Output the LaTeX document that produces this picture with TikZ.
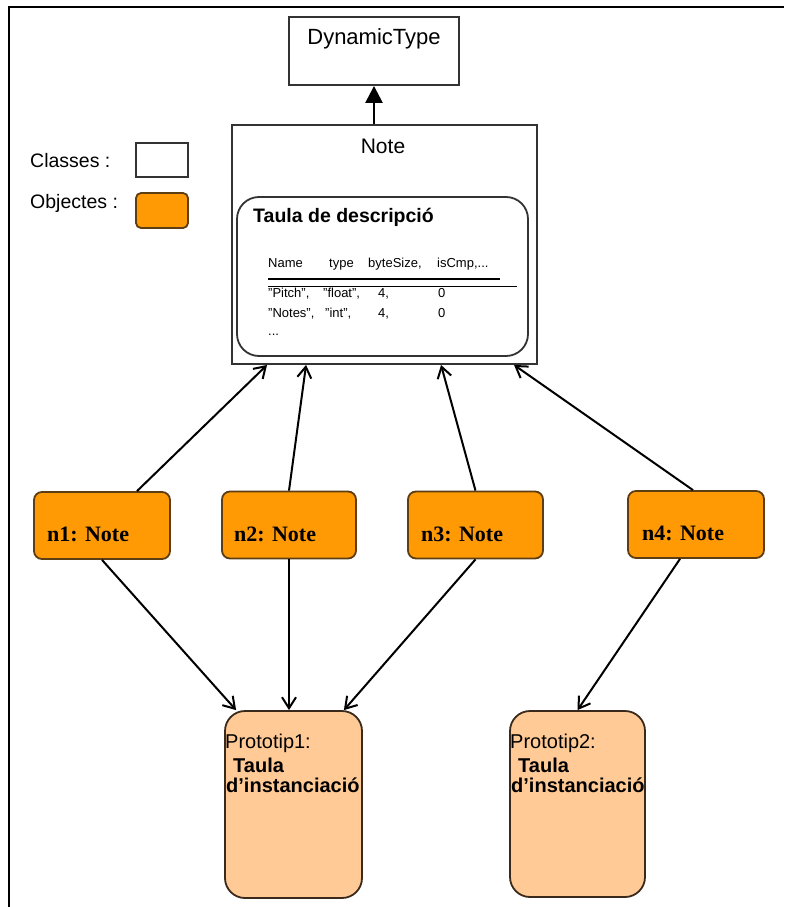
\documentclass[tikz,border=0pt]{standalone}
\usepackage{fontspec}
\setmainfont{Liberation Sans}
\newfontfamily\nodeserif{Liberation Serif}
\usetikzlibrary{arrows.meta}
\definecolor{objfill}{HTML}{FF9A05}
\definecolor{objline}{HTML}{5C3D14}
\definecolor{protofill}{HTML}{FFCA96}
\definecolor{protoline}{HTML}{3A2A1C}
\newcommand{\fs}[1]{\fontsize{#1}{#1}\selectfont}
\begin{document}
\begin{tikzpicture}[x=1pt,y=-1pt,
  classbox/.style={draw=black!80, line width=1.9pt, fill=white, inner sep=0pt},
  objbox/.style={draw=objline, line width=1.8pt, fill=objfill, rounded corners=8pt, inner sep=0pt},
  protobox/.style={draw=protoline, line width=1.8pt, fill=protofill, rounded corners=20pt, inner sep=0pt},
  tablebox/.style={draw=black!80, line width=1.8pt, rounded corners=22pt, inner sep=0pt},
  lbl/.style={anchor=base west, inner sep=0pt},
  objlbl/.style={anchor=base west, inner sep=0pt, font=\nodeserif\bfseries\fs{22}},
  link/.style={line width=2pt, -{Straight Barb[length=11pt,width=14pt,line width=2pt]}},
  inherit/.style={line width=2.6pt, -{Triangle[length=17pt,width=17pt]}}]
\useasboundingbox (0,0) rectangle (784,907);

% page frame (top and left edges)
\draw[line width=2pt] (9,907) -- (9,7.5) -- (784,7.5);

% legend
\node[lbl, font=\fs{19.5}] (lgc) at (30,167) {Classes :};
\node[classbox, minimum width=52pt, minimum height=34pt] (lgcbox) at (162,160) {};
\node[lbl, font=\fs{19.5}] (lgo) at (30,208) {Objectes :};
\node[objbox, rounded corners=5pt, minimum width=52pt, minimum height=35pt] (lgobox) at (162,210.5) {};

% classes
\node[classbox, minimum width=170pt, minimum height=68pt] (dyn) at (374,51) {};
\node[anchor=base, inner sep=0pt, font=\fs{22}] (dyntxt) at (374,45) {DynamicType};

\node[classbox, minimum width=305pt, minimum height=239pt] (note) at (384.5,244.5) {};
\node[anchor=base, inner sep=0pt, font=\fs{21}] (notetxt) at (383,153) {Note};

% description table
\node[tablebox, minimum width=291pt, minimum height=159pt] (desc) at (382.5,276.5) {};
\node[lbl, font=\bfseries\fs{19.5}] (desctitle) at (253,222) {Taula de descripció};
\begin{scope}[every node/.style={lbl, font=\fs{13}}]
  \node (h1) at (268,267) {Name};
  \node (h2) at (329,267) {type};
  \node (h3) at (368,267) {byteSize,};
  \node (h4) at (437,267) {isCmp,...};
  \node (r1a) at (268,297) {"Pitch",};
  \node (r1b) at (323,297) {"float",};
  \node (r1c) at (378,297) {4,};
  \node (r1d) at (438,297) {0};
  \node (r2a) at (268,317) {"Notes",};
  \node (r2b) at (325,317) {"int",};
  \node (r2c) at (378,317) {4,};
  \node (r2d) at (438,317) {0};
  \node (r3a) at (268,335) {...};
\end{scope}
\coordinate (ruleA) at (268,279);
\coordinate (ruleB) at (500,279);
\coordinate (ruleC) at (268,286);
\coordinate (ruleD) at (517,286);
\draw[line width=1.8pt] (ruleA) -- (ruleB);
\draw[line width=1pt] (ruleC) -- (ruleD);

% objects
\node[objbox, minimum width=136pt, minimum height=67pt] (n1) at (102,525.5) {};
\node[objbox, minimum width=134pt, minimum height=67pt] (n2) at (289,525) {};
\node[objbox, minimum width=135pt, minimum height=67pt] (n3) at (475.5,525) {};
\node[objbox, minimum width=136pt, minimum height=67pt] (n4) at (696,524.5) {};
\node[objlbl] (n1txt) at (47,541) {n1: Note};
\node[objlbl] (n2txt) at (234,541) {n2: Note};
\node[objlbl] (n3txt) at (421,541) {n3: Note};
\node[objlbl] (n4txt) at (642,540) {n4: Note};

% prototypes
\node[protobox, minimum width=137pt, minimum height=187pt] (p1) at (293.5,804.5) {};
\node[protobox, minimum width=135pt, minimum height=186pt] (p2) at (577.5,804) {};
\node[lbl, font=\fs{20}] (p1a) at (225,748) {Prototip1:};
\node[lbl, font=\bfseries\fs{20}] (p1b) at (233,772) {Taula};
\node[lbl, font=\bfseries\fs{20}] (p1c) at (226,792) {d'instanciació};
\node[lbl, font=\fs{20}] (p2a) at (510,748) {Prototip2:};
\node[lbl, font=\bfseries\fs{20}] (p2b) at (518,772) {Taula};
\node[lbl, font=\bfseries\fs{20}] (p2c) at (511,792) {d'instanciació};

% connectors
\draw[inherit] (dyn.south |- note.north) -- (dyn.south);

\draw[link] ([xshift=35pt]n1.north) -- ([xshift=36pt]note.south west);
\draw[link] (n2.north) -- ([xshift=75pt]note.south west);
\draw[link] (n3.north) -- ([xshift=210pt]note.south west);
\draw[link] ([xshift=-3pt]n4.north) -- ([xshift=283pt]note.south west);

\draw[link] (n1.south) -- ([xshift=12pt]p1.north west);
\draw[link] (n2.south) -- (n2.south |- p1.north);
\draw[link] (n3.south) -- ([xshift=-19pt]p1.north east);
\draw[link] ([xshift=-16pt]n4.south) -- (p2.north);
\end{tikzpicture}
\end{document}
